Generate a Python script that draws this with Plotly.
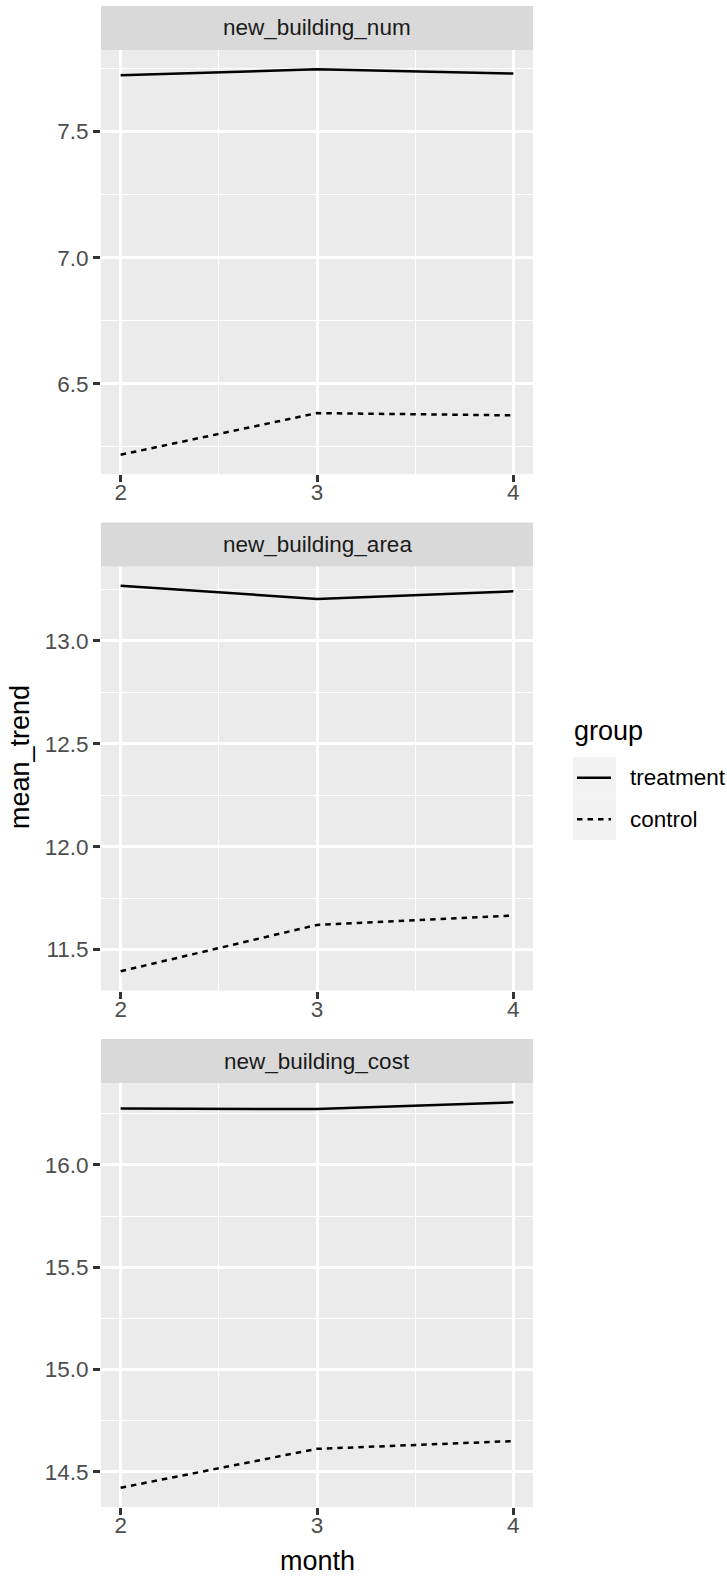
import plotly.graph_objects as go

# ---------------- data ----------------
months = [2, 3, 4]
facets = ["new_building_num", "new_building_area", "new_building_cost"]
groups = ["treatment", "control"]

treatment_num = [7.723, 7.747, 7.730]
control_num = [6.219, 6.384, 6.375]
treatment_area = [13.268, 13.204, 13.241]
control_area = [11.395, 11.620, 11.665]
treatment_cost = [16.275, 16.273, 16.306]
control_cost = [14.422, 14.612, 14.650]

series = {
    "new_building_num": (treatment_num, control_num),
    "new_building_area": (treatment_area, control_area),
    "new_building_cost": (treatment_cost, control_cost),
}

# ---------------- layout geometry (pixels) ----------------
W, H = 727, 1576
PX_L, PX_R = 101, 533
panels_px = [(50, 474), (566.5, 990.5), (1083, 1507)]
STRIP_H = 44
FONT = "Liberation Sans, Arial, Helvetica, sans-serif"

def fx(px):
    return px / W

def fy(py):
    return 1 - py / H

DASH = {"treatment": "solid", "control": "5.5px,5px"}

fig = go.Figure()
layout = dict(
    width=W, height=H,
    margin=dict(l=0, r=0, t=0, b=0, pad=0),
    paper_bgcolor="white",
    plot_bgcolor="#EBEBEB",
    showlegend=False,
    font=dict(family=FONT),
    shapes=[], annotations=[],
)

for i, name in enumerate(facets):
    k = "" if i == 0 else str(i + 1)
    tr, ct = series[name]
    for g, vals in zip(groups, (tr, ct)):
        fig.add_trace(go.Scatter(
            x=months, y=vals, mode="lines", name=g,
            line=dict(color="black", width=2.5, dash=DASH[g]),
            xaxis="x" + k, yaxis="y" + k, showlegend=False,
        ))
    allv = tr + ct
    lo, hi = min(allv), max(allv)
    pad = (hi - lo) * 0.05
    top_px, bot_px = panels_px[i]
    tickfont = dict(family=FONT, size=22.5, color="#4D4D4D")
    layout["xaxis" + k] = dict(
        domain=[fx(PX_L), fx(PX_R)], anchor="y" + k,
        range=[1.9, 4.1], tickmode="linear", tick0=2, dtick=1,
        showgrid=True, gridcolor="white", gridwidth=2.6,
        minor=dict(dtick=0.5, tick0=2, showgrid=True, gridcolor="white", gridwidth=1.3, ticks=""),
        ticks="outside", ticklen=7, tickwidth=2.5, tickcolor="#333333",
        ticklabelstandoff=-9,
        tickfont=tickfont, zeroline=False, showline=False,
    )
    layout["yaxis" + k] = dict(
        domain=[fy(bot_px), fy(top_px)], anchor="x" + k,
        range=[lo - pad, hi + pad], tickmode="linear", tick0=0, dtick=0.5,
        tickformat=".1f",
        showgrid=True, gridcolor="white", gridwidth=2.6,
        minor=dict(dtick=0.25, tick0=0, showgrid=True, gridcolor="white", gridwidth=1.3, ticks=""),
        ticks="outside", ticklen=7, tickwidth=2.5, tickcolor="#333333",
        tickfont=tickfont, zeroline=False, showline=False,
    )
    # strip
    layout["shapes"].append(dict(
        type="rect", xref="paper", yref="paper",
        x0=fx(PX_L), x1=fx(PX_R), y0=fy(top_px), y1=fy(top_px - STRIP_H),
        fillcolor="#D9D9D9", line=dict(width=0), layer="below",
    ))
    layout["annotations"].append(dict(
        text=name, xref="paper", yref="paper",
        x=fx((PX_L + PX_R) / 2), y=fy(top_px - STRIP_H / 2),
        xanchor="center", yanchor="middle", showarrow=False,
        font=dict(family=FONT, size=22.5, color="#1A1A1A"),
    ))

# axis titles
layout["annotations"].append(dict(
    text="month", xref="paper", yref="paper",
    x=fx((PX_L + PX_R) / 2), y=fy(1561), xanchor="center", yanchor="middle",
    showarrow=False, font=dict(family=FONT, size=27, color="black"),
))
layout["annotations"].append(dict(
    text="mean_trend", xref="paper", yref="paper", textangle=-90,
    x=fx(20), y=fy(757), xanchor="center", yanchor="middle",
    showarrow=False, font=dict(family=FONT, size=27, color="black"),
))

# legend (drawn manually, ggplot style)
layout["annotations"].append(dict(
    text="group", xref="paper", yref="paper",
    x=fx(572), y=fy(731), xanchor="left", yanchor="middle",
    showarrow=False, font=dict(family=FONT, size=27, color="black"),
))
key_x0, key_x1 = 573, 616
key_tops = [757, 798.5]
key_h = 41.5
for g, ky in zip(groups, key_tops):
    layout["shapes"].append(dict(
        type="rect", xref="paper", yref="paper",
        x0=fx(key_x0), x1=fx(key_x1), y0=fy(ky + key_h), y1=fy(ky),
        fillcolor="#F2F2F2", line=dict(width=0),
    ))
    cy = ky + key_h / 2
    layout["shapes"].append(dict(
        type="line", xref="paper", yref="paper",
        x0=fx(577), x1=fx(611), y0=fy(cy), y1=fy(cy),
        line=dict(color="black", width=2.6, dash=DASH[g]),
    ))
    layout["annotations"].append(dict(
        text=g, xref="paper", yref="paper",
        x=fx(628), y=fy(cy), xanchor="left", yanchor="middle",
        showarrow=False, font=dict(family=FONT, size=22.5, color="black"),
    ))

fig.update_layout(**layout)
fig.write_html(
    "out.html",
    config={"displayModeBar": False},
    post_script="document.body.style.margin='0';document.body.style.overflow='hidden';",
)
